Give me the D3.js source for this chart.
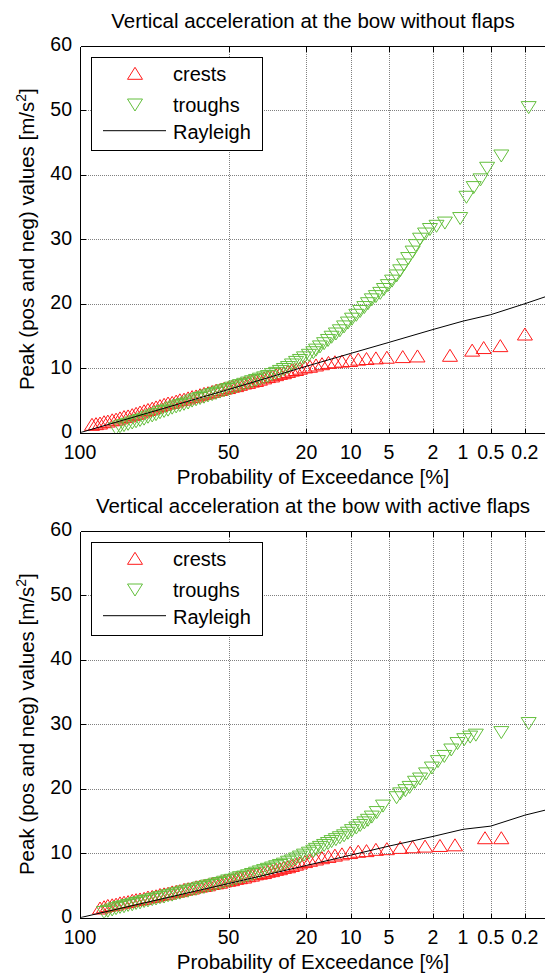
<!DOCTYPE html>
<html>
<head>
<meta charset="utf-8">
<script src="https://cdn.jsdelivr.net/npm/d3@7/dist/d3.min.js"></script>
<style>
  body { margin: 0; background: #fff; }
  svg { display: block; }
  text { font-family: "Liberation Sans", Arial, Helvetica, sans-serif; fill: #000; }
</style>
</head>
<body>
<svg id="chart" width="545" height="976"></svg>
<script>
// Probability of exceedance ticks [%] and peak-value ticks [m/s^2]
const probTicks = [100, 50, 20, 10, 5, 2, 1, 0.5, 0.2];
const probTickLabels = ["100", "50", "20", "10", "5", "2", "1", "0.5", "0.2"];
const valueTicks = [0, 10, 20, 30, 40, 50, 60];

const titles = [
  "Vertical acceleration at the bow without flaps",
  "Vertical acceleration at the bow with active flaps"
];
const legendLabels = ["crests", "troughs", "Rayleigh"];

// Each point: [probability of exceedance %, peak value m/s^2]
const crestsWithout = [
  [99.55,1.3],[99.2,1.4],[98.75,1.5],[98.2,1.7],[97.6,1.8],[96.8,2.0],[96.0,2.1],[95.1,2.3],[94.1,2.5],
  [93.0,2.6],[91.8,2.8],[90.6,3.0],[89.3,3.2],[87.9,3.4],[86.5,3.6],[84.9,3.8],[83.4,4.0],
  [81.8,4.2],[80.1,4.4],[78.4,4.6],[76.6,4.7],[74.8,4.9],[73.1,5.1],[71.2,5.2],[69.3,5.4],
  [67.4,5.6],[65.5,5.7],[63.6,5.9],[61.7,6.1],[59.8,6.2],[57.8,6.4],[55.9,6.6],[54.0,6.7],
  [52.1,6.9],[50.2,7.0],[48.4,7.2],[46.5,7.3],[44.8,7.5],[42.9,7.7],[41.2,7.8],[39.5,8.0],
  [37.8,8.1],[36.2,8.3],[34.5,8.5],[33.0,8.7],[31.4,8.8],[29.9,9.0],[28.5,9.2],[27.1,9.3],
  [25.7,9.5],[24.4,9.7],[23.1,9.8],[21.9,10.0],[20.4,10.2],[19.0,10.3],[17.4,10.5],[15.9,10.7],
  [14.4,10.9],[13.0,11.0],[11.6,11.1],[10.1,11.2],[8.8,11.4],[7.6,11.5],[6.4,11.6],[5.2,11.7],
  [3.8,11.8],[2.8,11.9],[1.36,12.0],[0.8,12.8],[0.6,13.2],[0.39,13.5],[0.2,15.3]
];
const troughsWithout = [
  [96.0,0.6],[95.1,0.9],[94.1,1.1],[93.0,1.3],[91.8,1.5],[90.6,1.7],[89.3,1.9],[87.9,2.1],
  [86.5,2.4],[84.9,2.6],[83.4,2.8],[81.8,3.1],[80.1,3.3],[78.4,3.5],[76.6,3.8],[74.8,4.0],
  [73.1,4.2],[71.2,4.4],[69.3,4.6],[67.4,4.9],[65.5,5.1],[63.6,5.3],[61.7,5.5],[59.8,5.7],
  [57.8,5.9],[55.9,6.1],[54.0,6.3],[52.1,6.5],[50.2,6.7],[48.4,6.9],[46.5,7.1],[44.8,7.3],
  [42.9,7.5],[41.2,7.7],[39.5,7.9],[37.8,8.1],[36.2,8.3],[34.5,8.5],[33.0,8.7],[31.4,9.0],
  [29.9,9.2],[28.5,9.5],[27.1,9.8],[25.7,10.1],[24.4,10.5],[23.1,10.9],[21.9,11.2],[20.7,11.6],
  [19.3,12.0],[18.1,12.4],[17.4,12.8],[16.4,13.3],[15.4,13.8],[14.5,14.3],[13.7,14.8],[12.8,15.3],
  [12.0,15.8],[11.2,16.4],[10.5,17.0],[9.8,17.6],[9.1,18.2],[8.5,18.8],[7.9,19.4],[7.4,20.0],
  [6.9,20.6],[6.4,21.1],[5.9,21.6],[5.5,22.2],[5.1,22.8],[4.7,23.5],[4.3,24.3],[4.0,25.1],
  [3.7,26.0],[3.4,27.0],[3.1,28.0],[2.9,29.0],[2.65,30.0],[2.38,30.8],[2.14,31.5],[1.85,32.0],
  [1.53,32.5],[1.07,33.2],[0.92,36.5],[0.77,38.0],[0.65,39.2],[0.55,41.0],[0.38,42.9],[0.18,50.4]
];
const rayleighWithout = [
  [100,0],[50,6.7],[20,10.3],[10,12.3],[5,14.0],[2,16.0],[1,17.3],[0.5,18.3],[0.2,20.0],[0.11,21.1]
];

const crestsWith = [
  [98.75,1.5],[98.2,1.7],[97.6,1.9],[96.8,2.0],[96.0,2.1],[95.1,2.3],[94.1,2.4],[93.0,2.5],
  [91.8,2.7],[90.6,2.8],[89.3,2.9],[87.9,3.0],[86.5,3.2],[84.9,3.3],[83.4,3.4],[81.8,3.6],
  [80.1,3.7],[78.4,3.8],[76.6,4.0],[74.8,4.1],[73.1,4.2],[71.2,4.4],[69.3,4.5],[67.4,4.6],
  [65.5,4.8],[63.6,4.9],[61.7,5.0],[59.8,5.1],[57.8,5.3],[55.9,5.4],[54.0,5.5],[52.1,5.7],
  [50.2,5.8],[48.4,5.9],[46.5,6.1],[44.8,6.2],[42.9,6.3],[41.2,6.5],[39.5,6.6],[37.8,6.8],
  [36.2,6.9],[34.5,7.0],[33.0,7.2],[31.4,7.3],[29.9,7.5],[28.5,7.6],[27.1,7.8],[25.7,7.9],
  [24.4,8.1],[23.1,8.3],[21.9,8.5],[20.4,8.7],[19.0,8.9],[17.4,9.1],[15.9,9.3],[14.4,9.5],
  [13.0,9.7],[11.6,9.9],[10.1,10.1],[8.8,10.3],[7.6,10.4],[6.4,10.6],[5.2,10.7],[4.0,10.9],
  [3.1,11.0],[2.38,11.1],[1.71,11.2],[1.21,11.3],[0.58,12.4],[0.38,12.4]
];
const troughsWith = [
  [98.2,0.8],[97.6,1.0],[96.8,1.2],[96.0,1.4],[95.1,1.6],[94.1,1.7],[93.0,1.9],[91.8,2.0],
  [90.6,2.2],[89.3,2.3],[87.9,2.5],[86.5,2.6],[84.9,2.8],[83.4,2.9],[81.8,3.1],[80.1,3.2],
  [78.4,3.4],[76.6,3.5],[74.8,3.7],[73.1,3.8],[71.2,4.0],[69.3,4.1],[67.4,4.3],[65.5,4.4],
  [63.6,4.6],[61.7,4.7],[59.8,4.9],[57.8,5.0],[55.9,5.2],[54.0,5.3],[52.1,5.5],[50.2,5.7],
  [48.4,5.8],[46.5,6.0],[44.8,6.2],[42.9,6.3],[41.2,6.5],[39.5,6.7],[37.8,6.9],[36.2,7.1],
  [34.5,7.3],[33.0,7.5],[31.4,7.7],[29.9,7.9],[28.5,8.1],[27.1,8.3],[25.7,8.6],[24.4,8.8],
  [23.1,9.1],[21.9,9.4],[20.7,9.7],[19.3,10.0],[18.1,10.3],[17.4,10.6],[16.4,10.9],[15.4,11.2],
  [14.5,11.5],[13.7,11.8],[12.8,12.1],[12.0,12.4],[11.2,12.7],[10.5,13.1],[9.8,13.5],[9.1,13.9],
  [8.5,14.3],[7.9,14.7],[7.4,15.1],[6.9,15.6],[6.3,16.3],[5.6,17.3],[4.3,18.6],[4.0,19.2],
  [3.6,19.7],[3.3,20.2],[2.95,21.0],[2.65,21.5],[2.33,22.3],[2.05,23.2],[1.79,24.2],[1.55,25.0],
  [1.32,26.0],[1.14,27.0],[0.97,27.6],[0.84,28.0],[0.73,28.3],[0.38,28.7],[0.18,30.1]
];
const rayleighWith = [
  [100,0],[50,5.3],[20,8.1],[10,9.7],[5,11.1],[2,12.6],[1,13.7],[0.5,14.2],[0.2,15.9],[0.11,16.7]
];

const panels = [
  { title: titles[0], crests: crestsWithout, troughs: troughsWithout, rayleigh: rayleighWithout },
  { title: titles[1], crests: crestsWith, troughs: troughsWith, rayleigh: rayleighWith }
];

// Layout
const left = 80, right = 546;
const panelTops = [45.7, 530.7];
const plotH = 387;
const crestColor = "#ff1a1a";
const troughColor = "#63bf3c";

// Rayleigh probability paper: linear in sqrt(-2 ln P)
const reduced = p => Math.sqrt(-2 * Math.log(p / 100));
const xs = d3.scaleLinear().domain([0, 3.6926]).range([left, right]);
const xp = p => xs(reduced(p));

const svg = d3.select("#chart");

const upTri = "M0,-6L7.5,6L-7.5,6Z";
const downTri = "M0,6L7.5,-6L-7.5,-6Z";

panels.forEach((pan, i) => {
  const top = panelTops[i], bottom = top + plotH;
  const ys = d3.scaleLinear().domain([0, 60]).range([bottom, top]);
  const g = svg.append("g");

  const clipId = "clip" + i;
  g.append("clipPath").attr("id", clipId)
    .append("rect").attr("x", left).attr("y", top).attr("width", right - left).attr("height", plotH);

  // dotted grid
  const grid = g.append("g").attr("stroke", "#808080").attr("stroke-width", 1)
    .attr("stroke-dasharray", "1,1").attr("shape-rendering", "crispEdges");
  grid.selectAll("line.v").data(probTicks.slice(1)).join("line")
    .attr("x1", d => Math.round(xp(d)) + 0.5).attr("x2", d => Math.round(xp(d)) + 0.5)
    .attr("y1", top).attr("y2", bottom);
  grid.selectAll("line.h").data(valueTicks.slice(1, -1)).join("line")
    .attr("y1", d => Math.round(ys(d)) + 0.5).attr("y2", d => Math.round(ys(d)) + 0.5)
    .attr("x1", left).attr("x2", right);

  // peaks and Rayleigh fit
  const plot = g.append("g").attr("clip-path", `url(#${clipId})`);
  plot.append("g").selectAll("path").data(pan.crests).join("path")
    .attr("d", upTri)
    .attr("transform", d => `translate(${xp(d[0])},${ys(d[1])})`)
    .attr("fill", "none").attr("stroke", crestColor).attr("stroke-width", 1);
  plot.append("g").selectAll("path").data(pan.troughs).join("path")
    .attr("d", downTri)
    .attr("transform", d => `translate(${xp(d[0])},${ys(d[1])})`)
    .attr("fill", "none").attr("stroke", troughColor).attr("stroke-width", 1);
  plot.append("path").datum(pan.rayleigh)
    .attr("d", d3.line().x(d => xp(d[0])).y(d => ys(d[1])))
    .attr("fill", "none").attr("stroke", "#000").attr("stroke-width", 1);

  // axes box
  const ax = g.append("g").attr("stroke", "#000").attr("stroke-width", 1).attr("shape-rendering", "crispEdges");
  const bx = Math.round(left) + 0.5, by = Math.round(bottom) + 0.5, ty = Math.round(top) + 0.5;
  ax.append("line").attr("x1", bx).attr("x2", right + 2).attr("y1", by).attr("y2", by);
  ax.append("line").attr("x1", bx).attr("x2", right + 2).attr("y1", ty).attr("y2", ty);
  ax.append("line").attr("x1", bx).attr("x2", bx).attr("y1", ty).attr("y2", by);
  // inward ticks
  probTicks.forEach(p => {
    const x = Math.round(xp(p)) + 0.5;
    ax.append("line").attr("x1", x).attr("x2", x).attr("y1", by).attr("y2", by - 5);
    ax.append("line").attr("x1", x).attr("x2", x).attr("y1", ty).attr("y2", ty + 5);
  });
  valueTicks.forEach(v => {
    const y = Math.round(ys(v)) + 0.5;
    ax.append("line").attr("x1", bx).attr("x2", bx + 5).attr("y1", y).attr("y2", y);
  });

  // tick labels
  g.append("g").selectAll("text").data(probTicks).join("text")
    .attr("x", d => xp(d)).attr("y", bottom + 26)
    .attr("text-anchor", "middle").attr("font-size", 19.5)
    .text((d, k) => probTickLabels[k]);
  g.append("g").selectAll("text").data(valueTicks).join("text")
    .attr("x", 72).attr("y", d => ys(d) + 5.5)
    .attr("text-anchor", "end").attr("font-size", 19.5)
    .text(d => d);

  // titles and axis labels
  g.append("text").attr("x", (left + right) / 2).attr("y", top - 18)
    .attr("text-anchor", "middle").attr("font-size", 20.5).text(pan.title);
  g.append("text").attr("x", (left + right) / 2).attr("y", bottom + 51.3)
    .attr("text-anchor", "middle").attr("font-size", 20.5).text("Probability of Exceedance [%]");
  const yl = g.append("text")
    .attr("transform", `translate(34,${(top + bottom) / 2}) rotate(-90)`)
    .attr("text-anchor", "middle").attr("font-size", 20.5);
  yl.append("tspan").text("Peak (pos and neg) values [m/s");
  yl.append("tspan").attr("font-size", 14).attr("dy", -8).text("2");
  yl.append("tspan").attr("dy", 8).text("]");

  // legend
  const lg = g.append("g");
  lg.append("rect").attr("x", 91.5).attr("y", Math.round(top + 11) + 0.5)
    .attr("width", 171).attr("height", 93)
    .attr("fill", "#fff").attr("stroke", "#000").attr("stroke-width", 1).attr("shape-rendering", "crispEdges");
  lg.append("path").attr("d", upTri).attr("transform", `translate(135,${top + 27.6})`)
    .attr("fill", "none").attr("stroke", crestColor);
  lg.append("path").attr("d", downTri).attr("transform", `translate(135,${top + 59.3})`)
    .attr("fill", "none").attr("stroke", troughColor);
  lg.append("line").attr("x1", 103).attr("x2", 166).attr("y1", top + 85).attr("y2", top + 85)
    .attr("stroke", "#000");
  const lbY = [top + 35.7, top + 66, top + 93];
  legendLabels.forEach((t, k) => {
    lg.append("text").attr("x", 173).attr("y", lbY[k]).attr("font-size", 20).text(t);
  });
});
</script>
</body>
</html>
